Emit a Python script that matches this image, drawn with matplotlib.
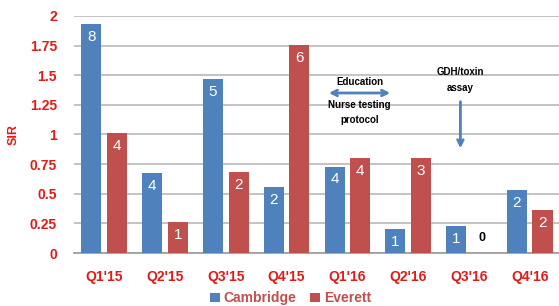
import matplotlib.pyplot as plt
import numpy as np

# data
quarters = ["Q1'15", "Q2'15", "Q3'15", "Q4'15", "Q1'16", "Q2'16", "Q3'16", "Q4'16"]
cambridge_sir = [1.93, 0.675, 1.47, 0.56, 0.73, 0.20, 0.23, 0.53]
everett_sir = [1.01, 0.26, 0.68, 1.755, 0.80, 0.80, 0.0, 0.36]
cambridge_n = [8, 4, 5, 2, 4, 1, 1, 2]
everett_n = [4, 1, 2, 6, 4, 3, 0, 2]
yticks = [0, 0.25, 0.5, 0.75, 1, 1.25, 1.5, 1.75, 2]

blue = '#4F81BD'
red = '#C0504D'
tick_red = '#E31B17'
fam = ['Liberation Sans Narrow', 'Liberation Sans', 'DejaVu Sans']

fig = plt.figure(figsize=(5.59, 3.06), dpi=100)
ax = fig.add_axes([0.132, 0.173, 0.87, 0.775])

x = np.arange(len(quarters))
w = 0.33
off = 0.21
b1 = ax.bar(x - off, cambridge_sir, w, color=blue, label='Cambridge', zorder=3)
b2 = ax.bar(x + off, everett_sir, w, color=red, label='Everett', zorder=3)

# counts inside the bar tops
for xi, v, n in zip(x, cambridge_sir, cambridge_n):
    ax.text(xi - off, v - 0.05, str(n), ha='center', va='top', color='white',
            fontsize=11, family=['Liberation Sans', 'DejaVu Sans'], zorder=4)
for xi, v, n in zip(x, everett_sir, everett_n):
    if v > 0.1:
        ax.text(xi + off, v - 0.05, str(n), ha='center', va='top', color='white',
                fontsize=11, family=['Liberation Sans', 'DejaVu Sans'], zorder=4)
    else:
        ax.text(xi + off, 0.13, str(n), ha='center', va='center', color='black',
                fontsize=9, fontweight='bold', family=fam, zorder=4)

ax.set_xlim(-0.5, 7.5)
ax.set_ylim(0, 2)
ax.set_yticks(yticks)
ax.set_yticklabels(['0', '0.25', '0.5', '0.75', '1', '1.25', '1.5', '1.75', '2'])
ax.set_xticks(x)
ax.set_xticklabels(quarters)
for lab in ax.get_yticklabels() + ax.get_xticklabels():
    lab.set_color(tick_red)
    lab.set_fontweight('bold')
    lab.set_fontsize(10)
    lab.set_family(fam)
ax.tick_params(axis='both', length=0)
ax.tick_params(axis='y', pad=12)
ax.tick_params(axis='x', pad=12)
ax.set_ylabel('SIR', color=tick_red, fontweight='bold', fontsize=9, family=fam)
ax.yaxis.set_label_coords(-0.112, 0.5)

ax.grid(axis='y', color='#BEBEBE', linewidth=1.3, zorder=0)
for s in ['top', 'right', 'left']:
    ax.spines[s].set_visible(False)
ax.spines['bottom'].set_color('#A0A0A0')
ax.spines['bottom'].set_linewidth(1.3)

# annotations
ax.annotate('', xy=(3.65, 1.35), xytext=(4.75, 1.35),
            arrowprops=dict(arrowstyle='<->', color=blue, lw=2))
ax.text(4.2, 1.44, 'Education', ha='center', va='center', fontsize=7,
        fontweight='bold', family=fam)
ax.text(4.2, 1.25, 'Nurse testing', ha='center', va='center', fontsize=7,
        fontweight='bold', family=fam)
ax.text(4.2, 1.12, 'protocol', ha='center', va='center', fontsize=7,
        fontweight='bold', family=fam)
ax.annotate('', xy=(5.86, 0.86), xytext=(5.86, 1.3),
            arrowprops=dict(arrowstyle='->', color=blue, lw=2))
ax.text(5.86, 1.53, 'GDH/toxin', ha='center', va='center', fontsize=7,
        fontweight='bold', family=fam)
ax.text(5.86, 1.39, 'assay', ha='center', va='center', fontsize=7,
        fontweight='bold', family=fam)

leg = fig.legend(handles=[b1, b2], loc='center', bbox_to_anchor=(0.52, 0.025),
                 ncol=2, frameon=False, handlelength=0.7, handleheight=0.7,
                 handletextpad=0.3, columnspacing=1.0,
                 prop={'family': fam, 'weight': 'bold', 'size': 10})
for t in leg.get_texts():
    t.set_color(red)

fig.savefig('out.png', dpi=100)
